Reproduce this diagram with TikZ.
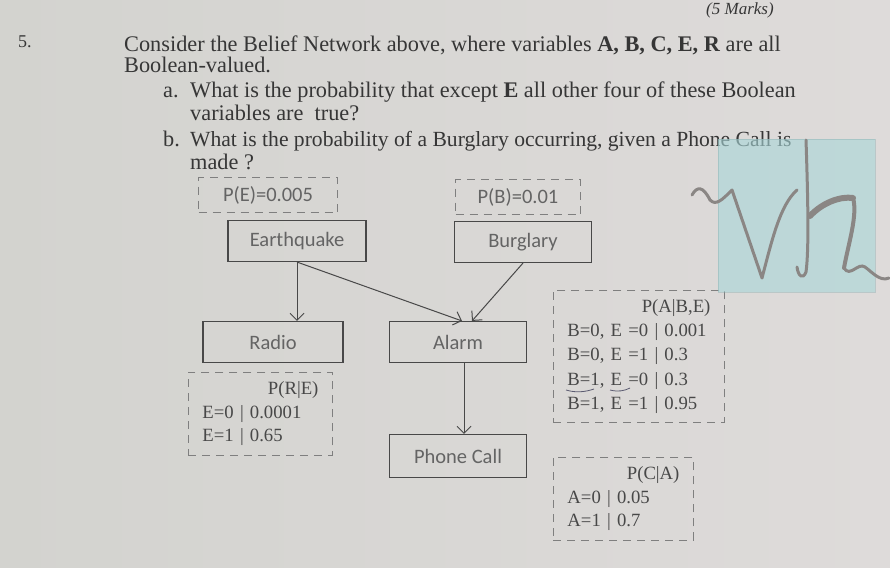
\documentclass[tikz,border=0pt]{standalone}
\usepackage{fontspec}
\setmainfont{Liberation Serif}
\newfontfamily\labelfont{Carlito}
\usetikzlibrary{arrows.meta}
\definecolor{paperL}{HTML}{D3D3CF}
\definecolor{paperM}{HTML}{E5E5E3}
\definecolor{paperR}{HTML}{DEDBDA}
\definecolor{ink}{HTML}{363636}
\definecolor{boxline}{HTML}{484848}
\definecolor{labelgray}{HTML}{646464}
\definecolor{cptgray}{HTML}{484848}
\definecolor{stamp}{HTML}{A8D6D8}
\definecolor{scribble}{HTML}{8A8684}
\definecolor{pen}{HTML}{5A5A70}

\begin{document}
\begin{tikzpicture}[x=1pt,y=-1pt,
    >={Straight Barb[length=7pt,width=14pt]},
    qtext/.style={anchor=base west,inner sep=0pt,text=ink,font=\fontsize{22.3}{26}\selectfont},
    var/.style={draw=boxline,line width=1.1pt,minimum width=137,minimum height=41,inner sep=0pt,
      text=labelgray,font=\labelfont\fontsize{20.5}{22}\selectfont},
    prior/.style={draw=boxline!70,dash pattern=on 8pt off 6pt,line width=0.9pt,minimum height=35,
      inner sep=0pt,text=labelgray,font=\labelfont\fontsize{20.5}{22}\selectfont},
    cpt/.style={draw=boxline!70,dash pattern=on 8pt off 6pt,line width=0.9pt,anchor=north west,
      align=left,inner xsep=14pt,inner ysep=5pt,text=cptgray,font=\fontsize{18.7}{23.5}\selectfont},
    edge/.style={draw=boxline,line width=1pt,->}]
\useasboundingbox (0,0) rectangle (890,567);
\shade[left color=paperL,middle color=paperM,right color=paperR] (0,0) rectangle (890,567);

% question text
\node[qtext,font=\itshape\fontsize{17}{19}\selectfont] (marks) at (706,15) {(5 Marks)};
\node[qtext,font=\fontsize{18}{20}\selectfont] (num) at (18,48) {5.};
\node[qtext] (l1) at (124,52) {Consider the Belief Network above, where variables \textbf{A, B, C, E, R} are all};
\node[qtext] (l2) at (124,73) {Boolean-valued.};
\node[qtext] (la) at (163,98) {a.};
\node[qtext] (l3) at (190,98) {What is the probability that except \textbf{E} all other four of these Boolean};
\node[qtext] (l4) at (190,121) {variables are\ \ true?};
\node[qtext] (lb) at (163,146) {b.};
\node[qtext,font=\fontsize{21.6}{26}\selectfont] (l5) at (190,146) {What is the probability of a Burglary occurring, given a Phone Call is};
\node[qtext] (l6) at (190,169) {made ?};

% network
\node[prior,minimum width=139] (pe) at (268,195) {P(E)=0.005};
\node[prior,minimum width=125] (pb) at (518,197) {P(B)=0.01};
\node[var,minimum width=138] (eq) at (297,241) {Earthquake};
\node[var] (bu) at (523,242) {Burglary};
\node[var,minimum width=140] (ra) at (273,342) {Radio};
\node[var] (al) at (458,342) {Alarm};
\node[var,minimum height=43] (ph) at (458,456) {Phone Call};

\draw[edge] (eq.south) -- (eq.south |- ra.north);
\draw[edge] (eq.south) -- ([xshift=4]al.north);
\draw[edge] (bu.south) -- ([xshift=14]al.north);
\draw[edge] ([xshift=6]al.south) -- ([xshift=6]ph.north);

% tables
\node[cpt,text width=116,minimum height=83] (pre) at (188,372)
  {\hspace*{0pt plus 1filll}P(R|E)\\E=0 | 0.0001\\E=1 | 0.65};
\node[cpt,text width=143,minimum height=132,font=\fontsize{18.7}{24.2}\selectfont] (pabe) at (553,290)
  {\hspace*{0pt plus 1filll}P(A|B,E)\\B=0, E =0 | 0.001\\B=0, E =1 | 0.3\\B=1, E =0 | 0.3\\B=1, E =1 | 0.95};
\node[cpt,text width=112,minimum height=83] (pca) at (553,457)
  {\hspace*{0pt plus 1filll}P(C|A)\\A=0 | 0.05\\A=1 | 0.7};

% pen marks
\draw[pen,line width=0.8pt] (566,390) .. controls (576,393) and (585,392) .. (594,389);
\draw[pen,line width=0.8pt] (610,390) .. controls (618,392) and (624,391) .. (630,388);

% stamp
\fill[stamp,opacity=0.6] (718,139) rectangle (875,292);
\draw[stamp!80!black,opacity=0.4,line width=0.6pt] (718,139) rectangle (875,292);
\draw[scribble,line width=3pt,line cap=round,line join=round]
  (692,195) .. controls (697,186) and (703,186) .. (710,200)
  .. controls (716,206) and (722,200) .. (732,190)
  -- (762,278) .. controls (772,240) and (780,205) .. (797,190);
\draw[scribble,line width=3pt,line cap=round]
  (806,140) .. controls (808,200) and (809,250) .. (806,272)
  .. controls (803,280) and (798,276) .. (797,267);
\draw[scribble,line width=6pt,line cap=round]
  (810,216) .. controls (822,203) and (840,196) .. (853,198);
\draw[scribble,line width=4pt,line cap=round]
  (853,198) .. controls (858,215) and (848,245) .. (844,268);
\draw[scribble,line width=3pt,line cap=round]
  (844,268) .. controls (850,278) and (858,262) .. (865,267)
  .. controls (872,272) and (880,282) .. (889,278);
\end{tikzpicture}
\end{document}
